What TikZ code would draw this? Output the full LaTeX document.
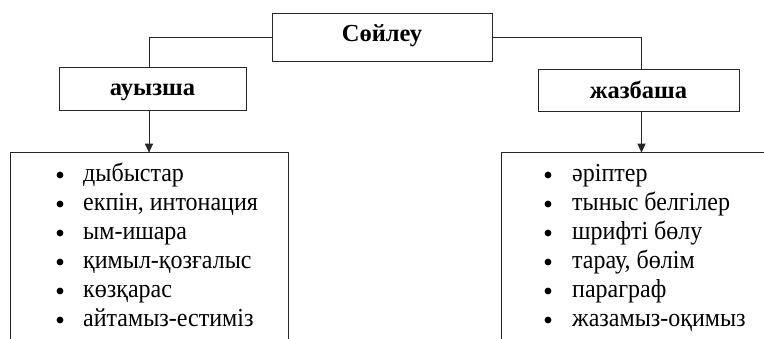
\documentclass[tikz,border=0pt]{standalone}
\usepackage{fontspec}
\usepackage{graphicx}
\setmainfont{Liberation Serif}
\usetikzlibrary{arrows.meta}
\begin{document}
\begin{tikzpicture}[x=1pt,y=-1pt,
  line/.style={draw=black!85,line width=0.9pt},
  headbox/.style={line,rectangle,inner sep=0pt,font=\fontsize{24.5}{28}\selectfont\bfseries},
  item/.style={anchor=base west,inner sep=0pt,font=\fontsize{24}{28}\selectfont},
  bul/.style={circle,fill=black,inner sep=0pt,minimum size=6.8pt},
  arr/.style={line,-{Triangle[length=9pt,width=8pt]}}]
\useasboundingbox (0,0) rectangle (764,338);
\clip (0,0) rectangle (764,338);
\node[headbox,minimum width=220,minimum height=48,text height=12pt,text depth=4pt] (top) at (382,37) {Сөйлеу};
\node[headbox,minimum width=187,minimum height=43,text height=16pt,text depth=2pt] (ora) at (152.5,88.5) {ауызша};
\node[headbox,minimum width=201,minimum height=42,text height=17pt,text depth=1pt] (wri) at (638.5,90) {жазбаша};
\coordinate (lj) at (149,67);
\coordinate (rj) at (641.5,69);
\draw[line] (top.west) -| (lj);
\draw[line] (top.east) -| (rj);
\coordinate (la) at (149,110);
\coordinate (lb) at (149,152.7);
\coordinate (ra) at (641.5,111);
\coordinate (rb) at (641.5,152.7);
\draw[arr] (la) -- (lb);
\draw[arr] (ra) -- (rb);
\draw[line] (10.7,345) -- (10.7,152.7) -- (288,152.7) -- (288,345);
\draw[line] (501,345) -- (501,152.7) -- (770,152.7);
\foreach \t [count=\i] in {дыбыстар,{екпін, интонация},ым-ишара,қимыл-қозғалыс,көзқарас,айтамыз-естиміз}{
  \node[bul] (lbul\i) at (60,175+29*\i-29) {};
  \node[item] (lit\i) at (83,181.5+29*\i-29) {\scalebox{1}[1.08]{\t}};
}
\foreach \t [count=\i] in {әріптер,тыныс белгілер,шрифті бөлу,{тарау, бөлім},параграф,жазамыз-оқимыз}{
  \node[bul] (rbul\i) at (548,175+29*\i-29) {};
  \node[item] (rit\i) at (572,181.5+29*\i-29) {\scalebox{1}[1.08]{\t}};
}
\end{tikzpicture}
\end{document}
